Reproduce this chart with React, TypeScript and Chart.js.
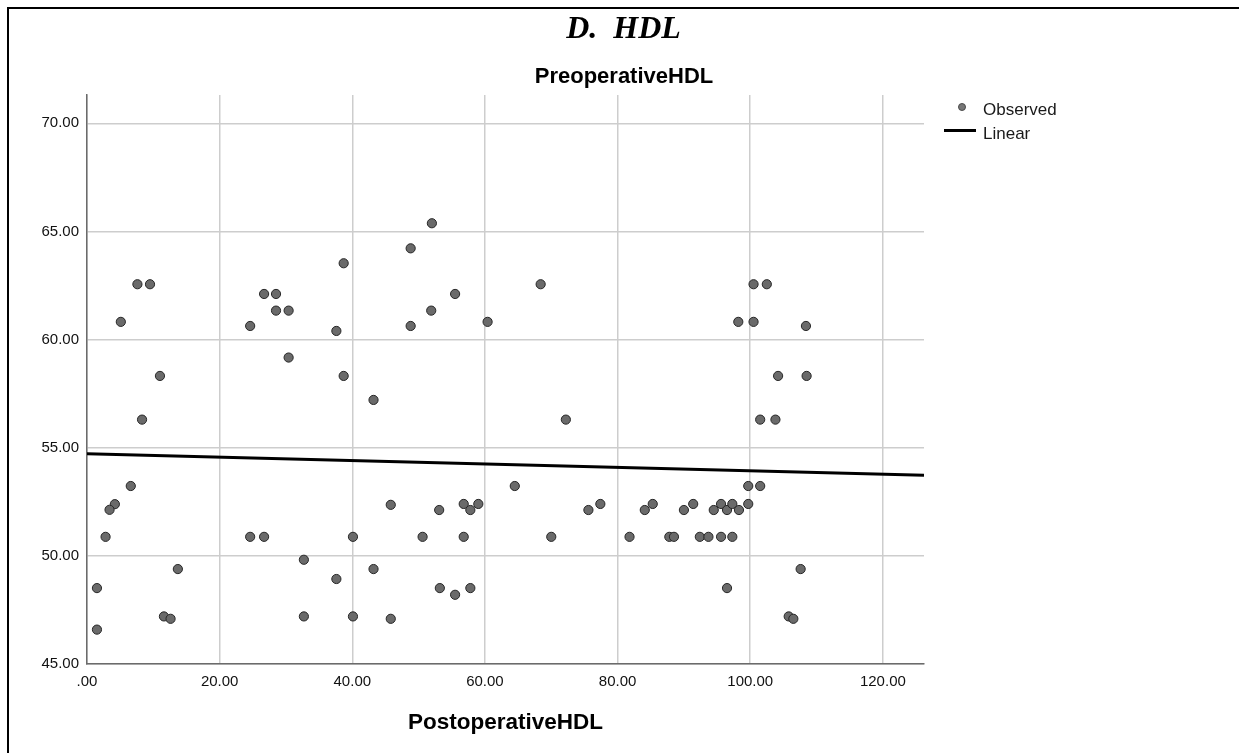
import React, { useEffect, useRef } from 'react';
import { Chart, registerables } from 'chart.js';

Chart.register(...registerables);

// Observed values (x = PostoperativeHDL, y = PreoperativeHDL)
const postopHDL = [
  7.6, 9.5, 5.1, 11.0, 8.3, 6.6, 4.2, 3.4, 2.8, 1.5, 1.5, 11.6, 12.6, 13.7,
  24.6, 26.7, 28.5, 28.5, 30.4, 30.4, 24.6, 26.7, 32.7, 32.7,
  37.6, 38.7, 38.7, 37.6, 40.1, 40.1, 43.2, 43.2, 45.8, 45.8,
  48.8, 48.8, 52.0, 51.9, 55.5, 60.4, 50.6, 53.1, 56.8, 57.8, 59.0, 56.8, 53.2, 55.5, 57.8,
  64.5, 68.4, 72.2, 70.0, 75.6, 77.4, 81.8, 84.1, 85.3, 87.8, 88.5, 90.0, 91.4, 92.4, 93.7,
  94.5, 95.6, 95.6, 96.5, 97.3, 97.3, 98.3, 99.7, 99.7, 101.5, 96.5,
  98.2, 100.5, 100.5, 102.5, 108.4, 104.2, 108.5, 101.5, 103.8, 105.8, 106.5, 107.6,
];
const preopHDL = [
  62.56, 62.56, 60.82, 58.32, 56.30, 53.23, 52.39, 52.13, 50.88, 48.51, 46.59, 47.20, 47.09, 49.39,
  60.63, 62.11, 62.11, 61.34, 61.34, 59.17, 50.88, 50.88, 49.82, 47.20,
  60.40, 63.53, 58.32, 48.93, 50.88, 47.20, 57.21, 49.39, 52.36, 47.09,
  64.22, 60.63, 65.38, 61.34, 62.11, 60.82, 50.88, 52.12, 52.40, 52.12, 52.40, 50.88, 48.51, 48.20, 48.51,
  53.23, 62.56, 56.30, 50.88, 52.12, 52.40, 50.88, 52.12, 52.40, 50.88, 50.88, 52.12, 52.40, 50.88, 50.88,
  52.12, 52.40, 50.88, 52.12, 52.40, 50.88, 52.12, 52.40, 53.23, 53.23, 48.51,
  60.82, 60.82, 62.56, 62.56, 60.63, 58.32, 58.32, 56.30, 56.30, 47.20, 47.09, 49.39,
];

// Linear fit line endpoints
const fitX = [0, 126.2];
const fitY = [54.72, 53.73];

// Axis ticks / ranges
const xTicks = [0, 20, 40, 60, 80, 100, 120];
const yTicks = [45, 50, 55, 60, 65, 70];
const xRange = [0, 126.2];
const yRange = [45, 71.31];

const headingText = 'D.  HDL';
const chartTitle = 'PreoperativeHDL';
const xTitle = 'PostoperativeHDL';
const legendLabels = ['Observed', 'Linear'];

const fmt = (v: number) => (v === 0 ? '.00' : v.toFixed(2));
const SANS = '"Liberation Sans", Arial, sans-serif';

export default function App() {
  const canvasRef = useRef<HTMLCanvasElement | null>(null);

  useEffect(() => {
    if (!canvasRef.current) return;
    const chart = new Chart(canvasRef.current, {
      type: 'scatter',
      data: {
        datasets: [
          {
            type: 'line',
            label: legendLabels[1],
            data: fitX.map((x, i) => ({ x, y: fitY[i] })),
            borderColor: '#000000',
            borderWidth: 3,
            pointRadius: 0,
            fill: false,
          },
          {
            type: 'scatter',
            label: legendLabels[0],
            data: postopHDL.map((x, i) => ({ x, y: preopHDL[i] })),
            backgroundColor: '#6a6a6a',
            borderColor: '#262626',
            borderWidth: 1,
            pointRadius: 4.6,
          },
        ],
      },
      options: {
        animation: false,
        responsive: false,
        maintainAspectRatio: false,
        layout: { padding: { left: 0, top: 95, right: 315, bottom: 0 } },
        plugins: {
          legend: { display: false },
          title: { display: false },
          tooltip: { enabled: false },
        },
        scales: {
          x: {
            type: 'linear',
            min: xRange[0],
            max: xRange[1],
            afterBuildTicks: (s: any) => {
              s.ticks = xTicks.map((v) => ({ value: v }));
            },
            afterFit: (s: any) => {
              s.height = 89;
            },
            ticks: {
              callback: (v: any) => fmt(Number(v)),
              font: { family: SANS, size: 15 },
              color: '#111111',
              padding: 9,
              maxRotation: 0,
            },
            grid: { color: '#cdcdcd', lineWidth: 1.5, drawTicks: false },
            border: { color: '#6b6b6b', width: 1.5 },
            title: {
              display: true,
              text: xTitle,
              font: { family: SANS, size: 22.5, weight: 'bold' },
              color: '#000',
              padding: { top: 0, bottom: 17 },
            },
          },
          y: {
            type: 'linear',
            min: yRange[0],
            max: yRange[1],
            afterBuildTicks: (s: any) => {
              s.ticks = yTicks.map((v) => ({ value: v }));
            },
            afterFit: (s: any) => {
              s.width = 87;
            },
            ticks: {
              callback: (v: any) => fmt(Number(v)),
              font: { family: SANS, size: 15 },
              color: '#111111',
              padding: 8,
            },
            grid: { color: '#cdcdcd', lineWidth: 1.5, drawTicks: false },
            border: { color: '#6b6b6b', width: 1.5 },
          },
        },
      },
    } as any);
    return () => chart.destroy();
  }, []);

  return (
    <div
      style={{
        position: 'fixed',
        left: 0,
        top: 0,
        width: 1239,
        height: 753,
        overflow: 'hidden',
        background: '#fff',
      }}
    >
      <div
        style={{
          position: 'absolute',
          left: 7,
          top: 7,
          width: 1300,
          height: 800,
          border: '2px solid #000',
          boxSizing: 'border-box',
        }}
      />
      <canvas
        ref={canvasRef}
        width={1239}
        height={753}
        style={{ position: 'absolute', left: 0, top: 0, width: 1239, height: 753 }}
      />
      <div
        style={{
          position: 'absolute',
          left: 0,
          top: 11,
          width: 1247,
          textAlign: 'center',
          fontFamily: '"Liberation Serif", "Times New Roman", serif',
          fontWeight: 'bold',
          fontStyle: 'italic',
          fontSize: 32,
          lineHeight: '32px',
          whiteSpace: 'pre',
        }}
      >
        {headingText}
      </div>
      <div
        style={{
          position: 'absolute',
          left: 0,
          top: 65,
          width: 1248,
          textAlign: 'center',
          fontFamily: SANS,
          fontWeight: 'bold',
          fontSize: 22,
          lineHeight: '22px',
          whiteSpace: 'pre',
        }}
      >
        {chartTitle}
      </div>
      {/* Legend */}
      <div
        style={{
          position: 'absolute',
          left: 957.7,
          top: 102.7,
          width: 8,
          height: 8,
          borderRadius: '50%',
          background: '#777777',
          border: '1px solid #4a4a4a',
          boxSizing: 'border-box',
        }}
      />
      <div
        style={{
          position: 'absolute',
          left: 983,
          top: 101,
          fontFamily: SANS,
          fontSize: 17,
          lineHeight: '17px',
          color: '#1a1a1a',
          whiteSpace: 'pre',
        }}
      >
        {legendLabels[0]}
      </div>
      <div
        style={{
          position: 'absolute',
          left: 944,
          top: 129.2,
          width: 32,
          height: 3,
          background: '#000',
        }}
      />
      <div
        style={{
          position: 'absolute',
          left: 983,
          top: 125,
          fontFamily: SANS,
          fontSize: 17,
          lineHeight: '17px',
          color: '#1a1a1a',
          whiteSpace: 'pre',
        }}
      >
        {legendLabels[1]}
      </div>
    </div>
  );
}
